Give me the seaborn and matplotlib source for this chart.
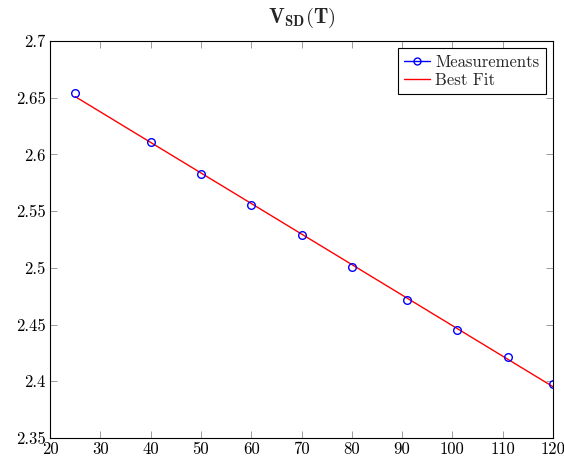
import numpy as np
import pandas as pd
import matplotlib.pyplot as plt
from matplotlib.lines import Line2D
import seaborn as sns

temp = [25, 40, 50, 60, 70, 80, 91, 101, 111, 120]
vsd = [2.654, 2.611, 2.583, 2.555, 2.529, 2.501, 2.472, 2.445, 2.421, 2.398]

xticks = [20, 30, 40, 50, 60, 70, 80, 90, 100, 110, 120]
yticks = [2.35, 2.4, 2.45, 2.5, 2.55, 2.6, 2.65, 2.7]
ytick_labels = ["2.35", "2.4", "2.45", "2.5", "2.55", "2.6", "2.65", "2.7"]

df = pd.DataFrame({"T": temp, "V": vsd})

# linear best fit from the measurements
slope, icpt = np.polyfit(df["T"], df["V"], 1)
fit = pd.DataFrame({"T": [temp[0], temp[-1]]})
fit["V"] = slope * fit["T"] + icpt

sns.set_theme(style="ticks")
plt.rcParams["font.family"] = "serif"
plt.rcParams["font.serif"] = ["cmr10", "DejaVu Serif"]
plt.rcParams["mathtext.fontset"] = "cm"
plt.rcParams["axes.formatter.use_mathtext"] = True

fig = plt.figure(figsize=(5.64, 4.59), dpi=100)
ax = fig.add_axes([0.0887, 0.0458, 0.8918, 0.8649])

sns.lineplot(data=fit, x="T", y="V", color="red", linewidth=1.0, ax=ax)
sns.lineplot(data=df, x="T", y="V", color="blue", linestyle="none", marker="o",
             markersize=5.5, markerfacecolor="none", markeredgecolor="blue",
             markeredgewidth=1.0, ax=ax)

ax.set_xlim(20, 120)
ax.set_ylim(2.35, 2.7)
ax.set_xticks(xticks)
ax.set_xticklabels([str(t) for t in xticks])
ax.set_yticks(yticks)
ax.set_yticklabels(ytick_labels)
ax.tick_params(direction="in", top=True, right=True, length=5, width=0.6,
               labelsize=12, color="0.55", labelcolor="black", pad=3)
for s in ax.spines.values():
    s.set_color("black")
    s.set_linewidth(0.8)
ax.set_xlabel("")
ax.set_ylabel("")
ax.set_title(r"$\mathbf{V_{SD}(T)}$", fontsize=15, pad=13)

handles = [
    Line2D([], [], color="blue", marker="o", markerfacecolor="none",
           markersize=5, linewidth=1.0),
    Line2D([], [], color="red", linewidth=1.0),
]
leg = ax.legend(handles, ["Measurements", "Best Fit"], loc="upper right",
                fancybox=False, edgecolor="black", framealpha=1, fontsize=12,
                handlelength=1.6, handletextpad=0.3, borderpad=0.35,
                labelspacing=0.2, borderaxespad=0.45)
leg.get_frame().set_linewidth(0.8)

fig.savefig("out.png", dpi=100)
